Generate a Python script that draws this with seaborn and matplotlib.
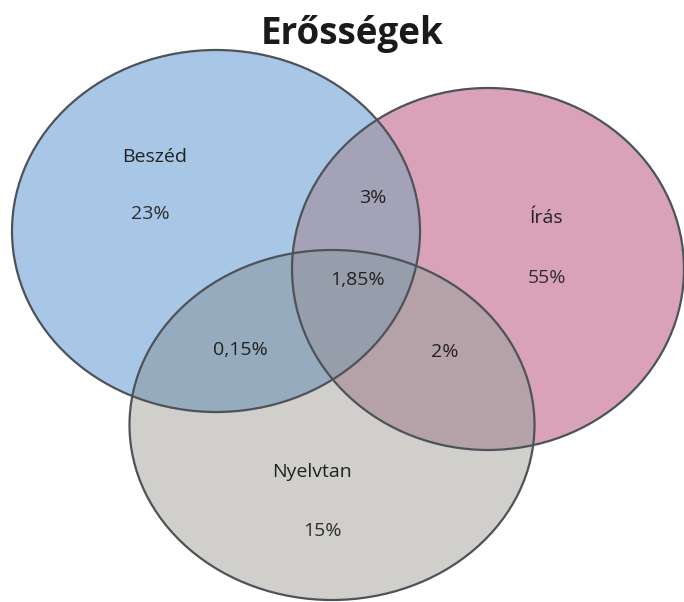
import matplotlib
matplotlib.use("Agg")
import matplotlib.pyplot as plt
from matplotlib.patches import Ellipse
from matplotlib.colors import ListedColormap
import numpy as np
import seaborn as sns

sns.set_theme(style="white")
plt.rcParams['font.family'] = ['Open Sans', 'DejaVu Sans']

title = "Erősségek"
sets = ["Beszéd", "Írás", "Nyelvtan"]
set_values = ["23%", "55%", "15%"]
overlap_labels = ["Beszéd∩Írás", "Beszéd∩Nyelvtan", "Írás∩Nyelvtan", "Mind"]
overlap_values = ["3%", "0,15%", "2%", "1,85%"]

# layout (pixel-like coordinates)
W, H = 684, 602
centers = [(216, 231), (488, 269), (332, 425)]
sizes = [(408, 362), (392, 362), (405, 350)]
name_pos = [(155, 157), (546, 218), (312, 472)]
val_pos = [(150, 214), (547, 278), (322, 531)]
ov_pos = [(373, 198), (240, 350), (445, 352), (357, 280)]

# region colours indexed by bitmask (blue=1, pink=2, gray=4)
region_colors = ["#ffffff", "#a8c6e6", "#d9a2b8", "#a3a2b7",
                 "#d0cfcc", "#97abbf", "#b5a1a8", "#979eab"]

fig = plt.figure(figsize=(W / 100, H / 100), dpi=100)
ax = fig.add_axes([0, 0, 1, 1])

xx, yy = np.meshgrid(np.arange(W) + 0.5, np.arange(H) + 0.5)
mask = np.zeros((H, W), dtype=int)
for i, (c, s) in enumerate(zip(centers, sizes)):
    inside = ((xx - c[0]) / (s[0] / 2)) ** 2 + ((yy - c[1]) / (s[1] / 2)) ** 2 <= 1
    mask += inside.astype(int) << i

ax.imshow(mask, cmap=ListedColormap(region_colors), vmin=-0.5, vmax=7.5,
          extent=(0, W, H, 0), interpolation="nearest", origin="upper")

for c, s in zip(centers, sizes):
    ax.add_patch(Ellipse(c, s[0], s[1], facecolor="none", edgecolor="#4d5358", lw=1.6))

ax.set_xlim(0, W)
ax.set_ylim(H, 0)
ax.axis("off")

for name, p in zip(sets, name_pos):
    ax.text(p[0], p[1], name, ha="center", va="center", fontsize=14, color="#222222")
for v, p in zip(set_values, val_pos):
    ax.text(p[0], p[1], v, ha="center", va="center", fontsize=14, color="#2e2e2e")
for v, p in zip(overlap_values, ov_pos):
    ax.text(p[0], p[1], v, ha="center", va="center", fontsize=14, color="#222222")

ax.text(352, 34, title, ha="center", va="center", fontsize=26.5, fontweight="bold", color="#1a1a1a")

fig.savefig("out.png", dpi=100)
